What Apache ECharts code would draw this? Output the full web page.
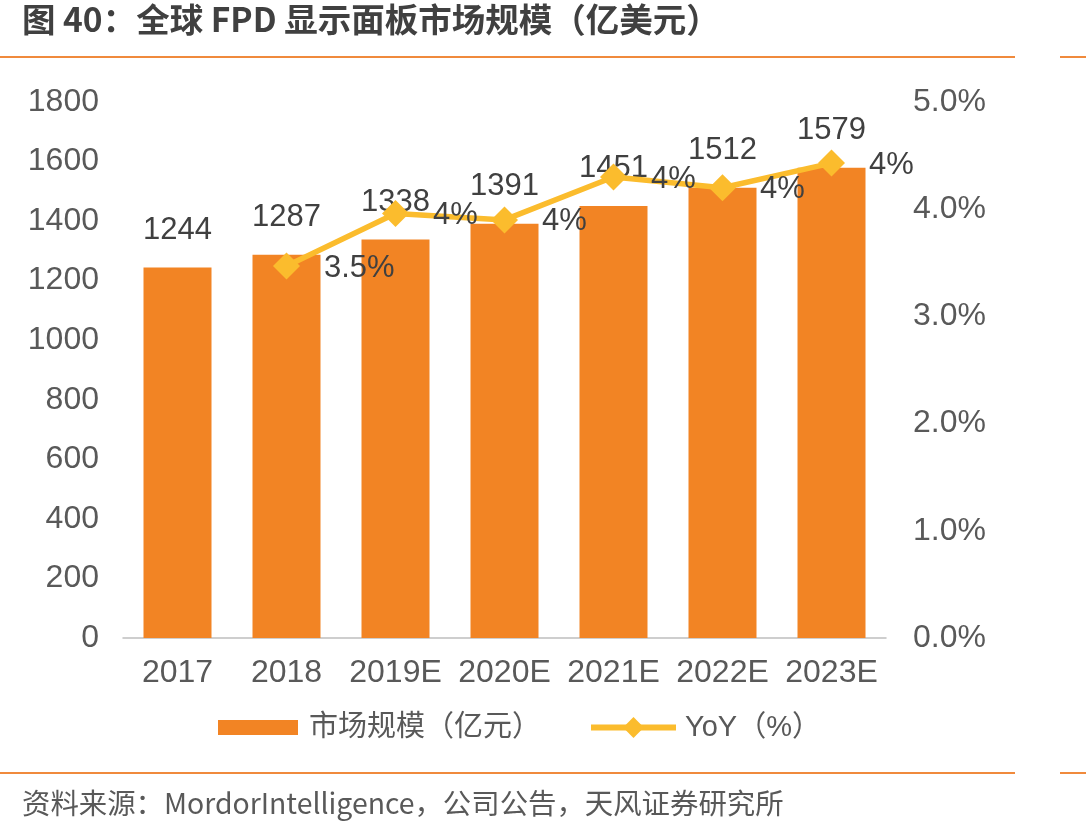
<!DOCTYPE html>
<html><head><meta charset="utf-8">
<script src="https://cdn.jsdelivr.net/npm/echarts@6/dist/echarts.min.js"></script>
<style>html,body{margin:0;padding:0;background:#fff}#c{width:1086px;height:836px}</style>
</head><body><div id="c"></div>
<script>
const categories = ['2017','2018','2019E','2020E','2021E','2022E','2023E'];
const marketSize = [1244,1287,1338,1391,1451,1512,1579];
const yoy = [null,3.47,3.96,3.9,4.3,4.2,4.43];
const yoyLabels = ['','3.5%','4%','4%','4%','4%','4%'];
const leftTicks = [0,200,400,600,800,1000,1200,1400,1600,1800];
const rightTicks = ['0.0%','1.0%','2.0%','3.0%','4.0%','5.0%'];

const FONT = '"Liberation Sans", "Noto Sans CJK SC", sans-serif';
const chart = echarts.init(document.getElementById('c'), null, {renderer:'canvas'});
chart.setOption({
  backgroundColor:'#fff',
  animation:false,
  textStyle:{fontFamily:FONT},
  grid:{left:123,right:200,top:102,bottom:198},
  graphic:[
    {type:'text',left:22,top:3,style:{text:'图 40：全球 FPD 显示面板市场规模（亿美元）',font:'bold 33.5px "Noto Sans CJK SC", sans-serif',fill:'#404040'}},
    {type:'rect',shape:{x:0,y:56,width:1015,height:2},style:{fill:'#F08A3C'}},
    {type:'rect',shape:{x:1060,y:56,width:26,height:2},style:{fill:'#F08A3C'}},
    {type:'rect',shape:{x:0,y:772,width:1015,height:2},style:{fill:'#F08A3C'}},
    {type:'rect',shape:{x:1060,y:772,width:26,height:2},style:{fill:'#F08A3C'}},
    {type:'text',left:22,top:789,style:{text:'资料来源：MordorIntelligence，公司公告，天风证券研究所',font:'28.4px "Noto Sans CJK SC", sans-serif',fill:'#595959'}}
  ],
  legend:[
    {data:['市场规模（亿元）'],left:213,top:708,itemWidth:80,itemHeight:15,icon:'rect',
     textStyle:{fontSize:29,color:'#595959',fontFamily:FONT,padding:[0,0,0,6]}},
    {data:['YoY（%）'],left:583,top:708,itemWidth:85,itemHeight:26,
     lineStyle:{width:6,color:'#FBBC2D'},itemStyle:{color:'#FBBC2D'},
     textStyle:{fontSize:29,color:'#595959',fontFamily:FONT,padding:[0,0,0,4]}}
  ],
  xAxis:{type:'category',data:categories,
    axisLine:{lineStyle:{color:'#BFBFBF',width:1.5}},axisTick:{show:false},
    axisLabel:{interval:0,fontSize:32,color:'#595959',margin:19,fontFamily:FONT}},
  yAxis:[
    {type:'value',min:0,max:1800,interval:200,splitLine:{show:false},
     axisLine:{show:false},axisTick:{show:false},
     axisLabel:{fontSize:32,color:'#595959',margin:24,fontFamily:FONT,
       formatter:v=>leftTicks.includes(v)?String(v):''}},
    {type:'value',min:0,max:5,interval:1,splitLine:{show:false},
     axisLine:{show:false},axisTick:{show:false},
     axisLabel:{fontSize:32,color:'#595959',margin:27,fontFamily:FONT,
       formatter:v=>rightTicks[Math.round(v)]}}
  ],
  series:[
    {name:'市场规模（亿元）',type:'bar',data:marketSize,barWidth:68,
     itemStyle:{color:'#F28424'},
     label:{show:true,position:'top',distance:22,fontSize:31,color:'#404040',fontFamily:FONT}},
    {name:'YoY（%）',type:'line',yAxisIndex:1,data:yoy,
     lineStyle:{color:'#FBBC2D',width:5.5},itemStyle:{color:'#FBBC2D'},
     symbol:'diamond',symbolSize:27,
     label:{show:true,position:'right',distance:24,offset:[0,2],fontSize:31,color:'#404040',fontFamily:FONT,
       formatter:p=>yoyLabels[p.dataIndex]}}
  ]
});
</script></body></html>
